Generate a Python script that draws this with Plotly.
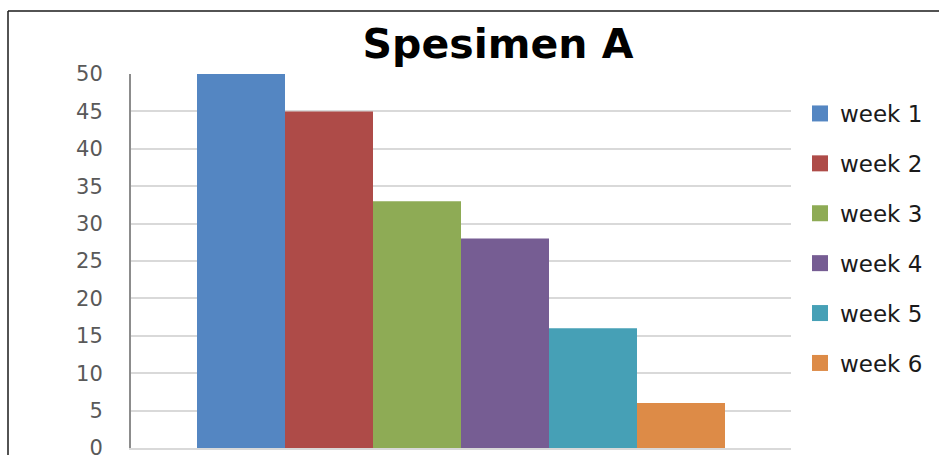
import plotly.graph_objects as go

categories = ["Spesimen A"]
series_names = ["week 1", "week 2", "week 3", "week 4", "week 5", "week 6"]
series_values = [50, 45, 33, 28, 16, 6]
colors = ["#5486C2", "#AE4B48", "#8EAB55", "#765D93", "#46A0B6", "#DD8B47"]
y_ticks = [0, 5, 10, 15, 20, 25, 30, 35, 40, 45, 50]

fig = go.Figure()
for i, (name, val) in enumerate(zip(series_names, series_values)):
    fig.add_trace(go.Bar(
        x=categories, y=[val], name=name,
        marker=dict(color=colors[i], line=dict(width=0)),
        legendgroup=name, showlegend=False,
    ))
# legend proxies with larger square swatches
for i, name in enumerate(series_names):
    fig.add_trace(go.Scatter(
        x=[None], y=[None], mode="markers", name=name,
        marker=dict(symbol="square", size=16, color=colors[i], line=dict(width=0)),
        legendgroup=name, showlegend=True,
    ))

FONT = "DejaVu Sans, Open Sans, sans-serif"

pw = 939 - 131 - 148
ph = 455 - 74 - 7
def px_x(px):
    return (px - 131) / pw
def px_y(py):
    return (455 - 7 - py) / ph

fig.update_layout(
    width=939, height=455,
    margin=dict(l=131, r=148, t=74, b=7, autoexpand=False),
    paper_bgcolor="white", plot_bgcolor="white",
    barmode="group", bargap=0.2, bargroupgap=0,
    title=dict(text="<b>Spesimen A</b>", x=498 / 939, xanchor="center",
               y=0.905, yanchor="middle",
               font=dict(family=FONT, size=41, color="#000000")),
    showlegend=True,
    legend=dict(x=px_x(800), xanchor="left", xref="paper", y=px_y(92), yanchor="top",
                font=dict(family=FONT, size=23, color="#1a1a1a"),
                tracegroupgap=17, itemwidth=30, bgcolor="rgba(0,0,0,0)"),
    xaxis=dict(showticklabels=False, showgrid=False, zeroline=False, automargin=False,
               showline=True, linecolor="#D9D9D9", linewidth=2, ticks=""),
    yaxis=dict(range=[0, 50], tickvals=y_ticks, showgrid=True, gridcolor="#D9D9D9", gridwidth=2,
               zeroline=False, showline=True, linecolor="#8C8C8C", linewidth=2, automargin=False,
               ticks="", ticklabelstandoff=22, ticklabeloverflow="allow",
               tickfont=dict(family=FONT, size=21, color="#595959")),
)
fig.add_shape(type="line", xref="paper", yref="paper", x0=px_x(8), x1=px_x(939), y0=px_y(11), y1=px_y(11),
              line=dict(color="#1a1a1a", width=1.5))
fig.add_shape(type="line", xref="paper", yref="paper", x0=px_x(8), x1=px_x(8), y0=px_y(11), y1=px_y(456),
              line=dict(color="#1a1a1a", width=1.5))

fig.write_html("out.html")
